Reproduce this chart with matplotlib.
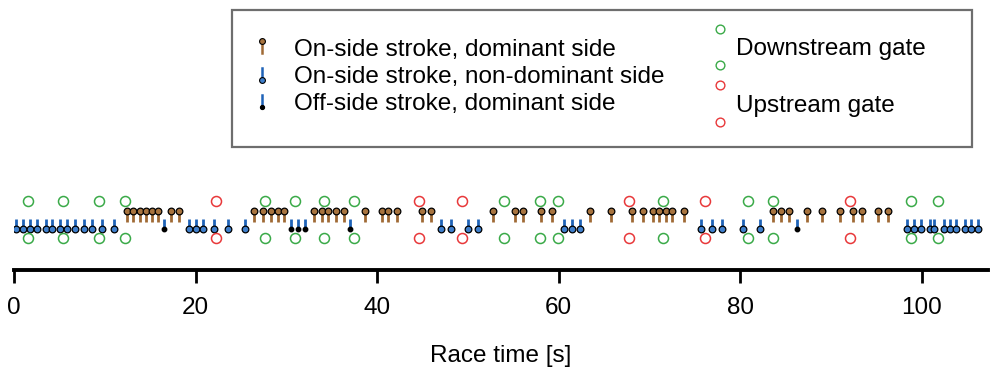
import matplotlib
matplotlib.use("Agg")
import matplotlib.pyplot as plt
from matplotlib.lines import Line2D
from matplotlib.patches import Rectangle
from matplotlib.legend_handler import HandlerBase

plt.rcParams['font.family'] = ['Liberation Sans', 'DejaVu Sans']

# stroke times [s]
on_dominant = [12.41, 13.14, 13.88, 14.54, 15.17, 15.83, 17.26, 18.2,
               26.43, 27.4, 28.27, 29.1, 29.77,
               33.1, 33.9, 34.6, 35.45, 36.3,
               38.66, 40.5, 41.15, 42.15, 45.0, 45.9, 52.8, 55.2, 56.1,
               58.04, 59.3, 63.5, 65.8, 68.1, 69.3, 70.4, 71.1, 71.8, 72.5, 73.8,
               83.6, 84.5, 85.4, 87.4, 89.0, 91.0, 92.4, 93.4, 95.2, 96.3]
on_nondominant = [0.22, 1.03, 1.76, 2.57, 3.5, 4.15, 5.07, 5.87, 6.72, 7.71, 8.63, 9.69, 11.05,
                  19.27, 20.04, 20.85, 22.03, 23.6, 25.44,
                  47.0, 48.1, 49.97, 51.07,
                  60.6, 61.5, 62.4,
                  75.7, 76.9, 78.0, 80.3, 82.2,
                  98.4, 99.1, 99.9, 100.9, 101.4, 102.4, 103.1, 103.8, 104.8, 105.4, 106.2]
off_dominant = [16.55, 30.5, 31.3, 32.1, 37.0, 86.3]

# gate times [s]
downstream_gates = [1.5, 5.36, 9.4, 12.2, 27.64, 31.0, 34.1, 37.45, 54.0, 58.0,
                    59.95, 71.5, 80.9, 83.6, 98.8, 101.8]
upstream_gates = [22.3, 44.6, 49.4, 67.8, 76.1, 92.1]

xticks = [0, 20, 40, 60, 80, 100]

BROWN = '#a06a35'
BROWN_FILL = '#a8743f'
BLUE = '#1f63b8'
BLUE_FILL = '#3f7fcc'
GREEN = '#3aaa48'
RED = '#e8383a'
FS = 17.5

fig = plt.figure(figsize=(9.91, 3.69), dpi=100)
ax = fig.add_axes([14 / 991, 99 / 369, 974 / 991, 80 / 369])

# stems
ax.vlines(on_dominant, 0.41, 1, color=BROWN, lw=2.0, zorder=2)
ax.vlines(on_nondominant, 0, 0.56, color=BLUE, lw=2.0, zorder=2)
ax.vlines(off_dominant, 0, 0.56, color=BLUE, lw=2.0, zorder=2)

# markers
ax.plot(on_dominant, [1] * len(on_dominant), 'o', ms=4.8, mfc=BROWN_FILL, mec='black', mew=0.9, zorder=3)
ax.plot(on_nondominant, [0] * len(on_nondominant), 'o', ms=4.8, mfc=BLUE_FILL, mec='black', mew=0.9, zorder=3)
ax.plot(off_dominant, [0] * len(off_dominant), 'o', ms=3.2, mfc='black', mec='black', zorder=3)

# gates
for g, c in ((downstream_gates, GREEN), (upstream_gates, RED)):
    ax.plot(g, [1.5] * len(g), 'o', ms=7.2, mfc='none', mec=c, mew=1.1, zorder=3)
    ax.plot(g, [-0.48] * len(g), 'o', ms=7.2, mfc='none', mec=c, mew=1.1, zorder=3)

ax.set_xlim(0, 107.3)
ax.set_ylim(-2.19, 2.11)
ax.set_yticks([])
for s in ('top', 'left', 'right'):
    ax.spines[s].set_visible(False)
ax.spines['bottom'].set_linewidth(2.8)
ax.set_xticks(xticks)
ax.tick_params(axis='x', length=9.5, width=2.0, labelsize=FS, pad=10)
ax.set_xlabel('Race time [s]', fontsize=FS, labelpad=19)


class StemHandler(HandlerBase):
    def __init__(self, up, fc, sc, ms):
        super().__init__()
        self.up, self.fc, self.sc, self.ms = up, fc, sc, ms

    def create_artists(self, legend, orig_handle, xdescent, ydescent,
                       width, height, fontsize, trans):
        cx = width / 2 - xdescent
        cy = height / 2 - ydescent
        if self.up:
            yd, ys = cy - 4, cy + 4.5
        else:
            yd, ys = cy + 4, cy - 4.5
        stem = Line2D([cx, cx], [yd, ys], color=self.sc, lw=1.8, transform=trans)
        dot = Line2D([cx], [yd], marker='o', ms=self.ms, mfc=self.fc,
                     mec='black', mew=0.8, transform=trans)
        return [stem, dot]


class GateHandler(HandlerBase):
    def __init__(self, color):
        super().__init__()
        self.color = color

    def create_artists(self, legend, orig_handle, xdescent, ydescent,
                       width, height, fontsize, trans):
        cx = width / 2 - xdescent
        cy = height / 2 - ydescent
        circ = Line2D([cx, cx], [cy + 13.5, cy - 13], ls='none', marker='o', ms=6.3,
                      mfc='none', mec=self.color, mew=1.0, transform=trans)
        return [circ]


h1, h2, h3 = object(), object(), object()
g1, g2 = object(), object()

leg1 = fig.legend([h1, h2, h3],
                  ['On-side stroke, dominant side',
                   'On-side stroke, non-dominant side',
                   'Off-side stroke, dominant side'],
                  handler_map={h1: StemHandler(False, BROWN_FILL, BROWN, 4.2),
                               h2: StemHandler(True, BLUE_FILL, BLUE, 4.2),
                               h3: StemHandler(True, 'black', BLUE, 3.0)},
                  loc='upper left', bbox_to_anchor=(250 / 991, 1 - 38.5 / 369),
                  frameon=False, fontsize=FS, borderpad=0, borderaxespad=0,
                  handlelength=1.0, handletextpad=0.8, labelspacing=0.22)

leg2 = fig.legend([g1, g2], ['Downstream gate', 'Upstream gate'],
                  handler_map={g1: GateHandler(GREEN), g2: GateHandler(RED)},
                  loc='upper left', bbox_to_anchor=(714 / 991, 1 - 27 / 369),
                  frameon=False, fontsize=FS, borderpad=0, borderaxespad=0,
                  handlelength=0.5, handletextpad=0.4, handleheight=2.2,
                  labelspacing=0.66)

fig.add_artist(Rectangle((232 / 991, 1 - 147 / 369), 740 / 991, 137 / 369,
                         transform=fig.transFigure, fill=False,
                         edgecolor='#6e6e6e', lw=1.6))

fig.savefig('out.png', dpi=100)
